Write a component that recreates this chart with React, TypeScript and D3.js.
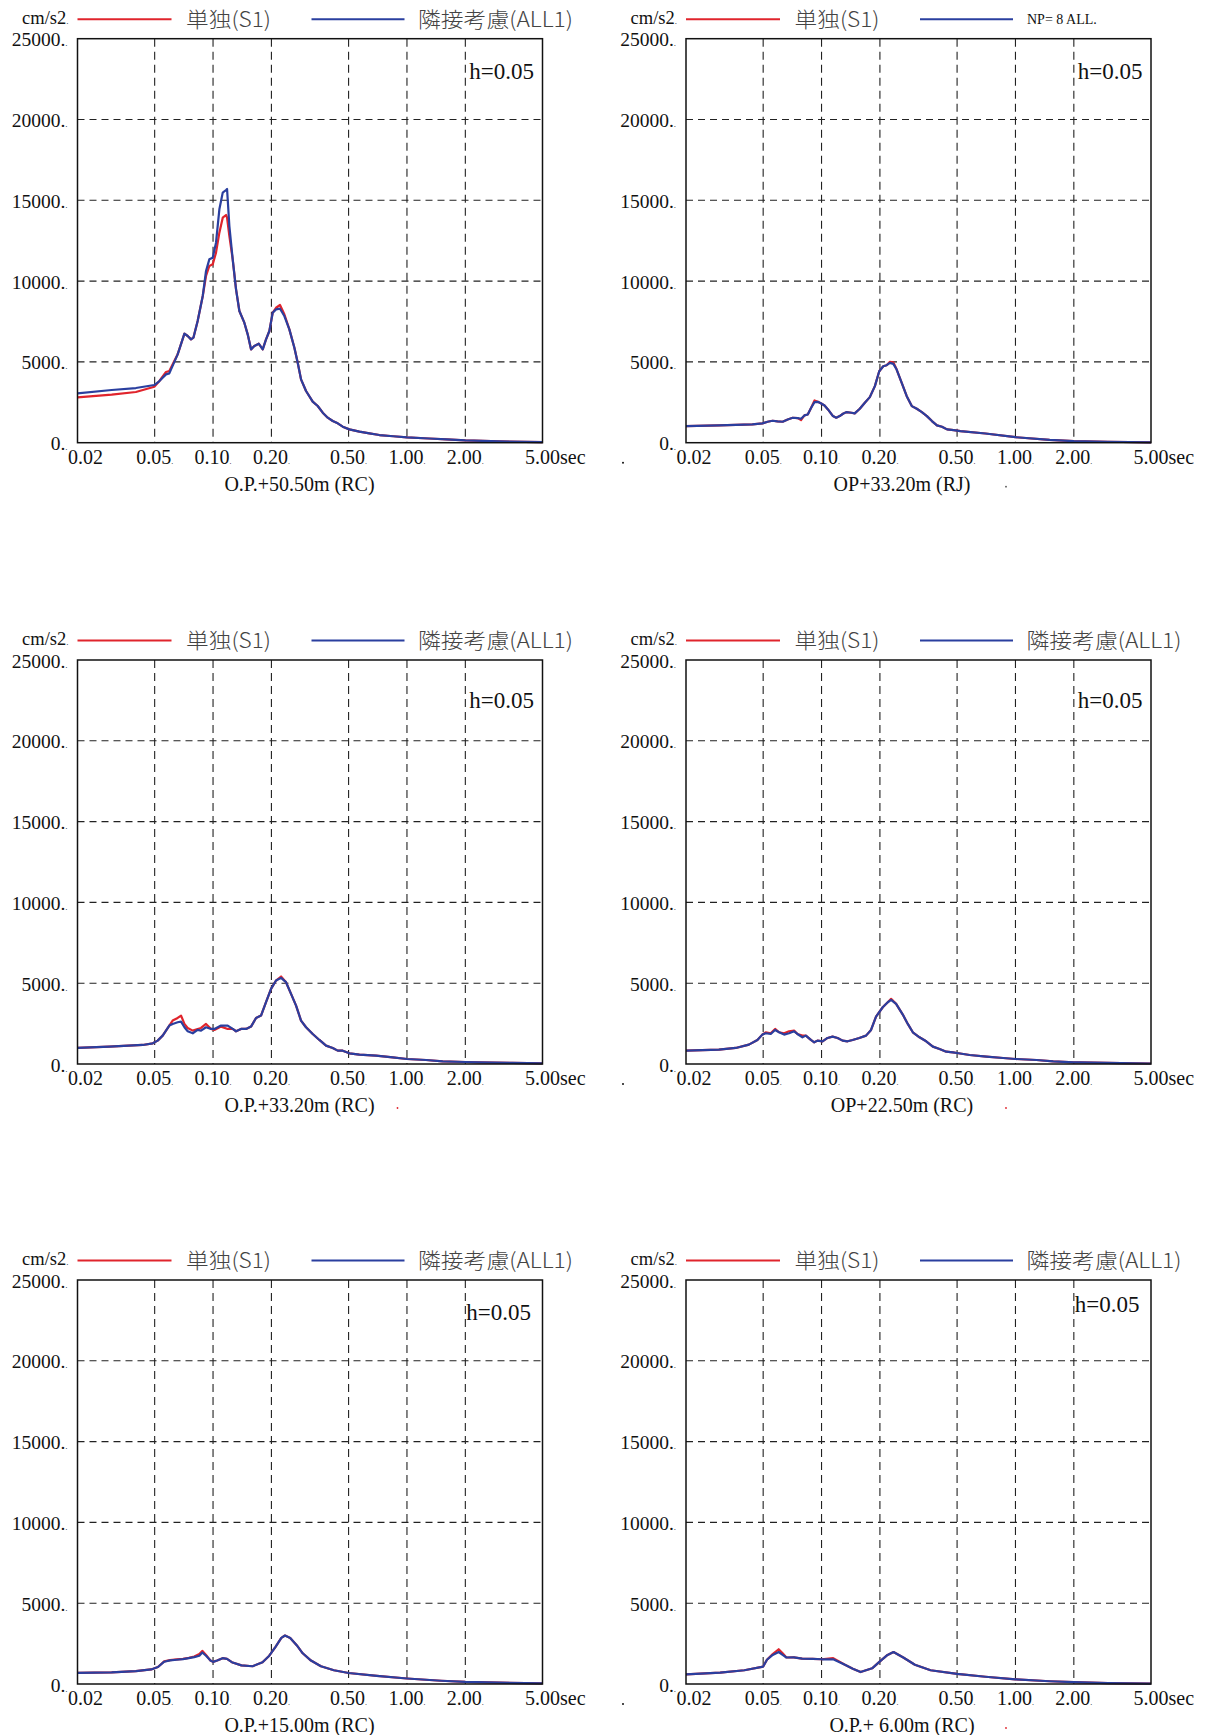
import React from "react";
import * as d3 from "d3";

// ---------- tick labels ----------
const X_TICKS = [0.02, 0.05, 0.1, 0.2, 0.5, 1, 2, 5];
const X_TICK_LABELS = ["0.02", "0.05", "0.10", "0.20", "0.50", "1.00", "2.00", "5.00"];
const X_GRID = [0.05, 0.1, 0.2, 0.5, 1, 2];
const Y_TICKS = [0, 5000, 10000, 15000, 20000, 25000];
const Y_GRID = [5000, 10000, 15000, 20000];

// ---------- panel 1 : O.P.+50.50m (RC) ----------
const P1_T = [0.02, 0.03, 0.04, 0.0498, 0.0529, 0.0572, 0.0595, 0.0657, 0.0712, 0.074, 0.077, 0.0792, 0.0833, 0.0885, 0.092, 0.0957, 0.0996, 0.1036, 0.1078, 0.1122, 0.1167, 0.1181, 0.1214, 0.1263, 0.1314, 0.1367, 0.145, 0.1509, 0.157, 0.1633, 0.172, 0.1804, 0.1876, 0.1952, 0.2031, 0.2113, 0.2215, 0.2332, 0.2475, 0.2627, 0.2733, 0.2843, 0.3017, 0.3266, 0.3466, 0.3678, 0.3903, 0.4142, 0.4395, 0.4664, 0.5047, 0.5685, 0.6403, 0.7208, 0.85, 1.0, 1.3, 1.6, 2.0, 3.0, 5.0];
const P1_S1 = [2806, 2970, 3136, 3466, 3817, 4374, 4435, 5467, 6746, 6602, 6395, 6498, 7530, 9077, 10315, 10934, 11037, 11759, 12997, 13925, 14090, 13925, 12791, 11347, 9490, 8149, 7427, 6705, 5776, 5983, 6127, 5776, 6395, 6911, 8046, 8350, 8520, 7950, 7014, 5880, 4951, 3920, 3198, 2537, 2269, 1857, 1547, 1341, 1197, 990, 825, 681, 578, 474, 400, 330, 260, 200, 140, 80, 30];
const P1_ALL1 = [3053, 3260, 3383, 3569, 3817, 4229, 4291, 5467, 6746, 6602, 6395, 6498, 7530, 9077, 10624, 11347, 11450, 12378, 14441, 15473, 15638, 15700, 13410, 11347, 9490, 8149, 7427, 6705, 5776, 5983, 6127, 5776, 6395, 6911, 8046, 8252, 8293, 7839, 7014, 5880, 4951, 3920, 3198, 2537, 2269, 1857, 1547, 1341, 1197, 990, 825, 681, 578, 474, 400, 330, 260, 200, 140, 80, 30];

// ---------- panel 2 : OP+33.20m (RJ) ----------
const P2_T = [0.02, 0.0296, 0.044, 0.0496, 0.0527, 0.0559, 0.0593, 0.063, 0.0669, 0.071, 0.0754, 0.0784, 0.0816, 0.0849, 0.0884, 0.092, 0.0957, 0.0996, 0.1036, 0.1079, 0.1145, 0.1191, 0.124, 0.129, 0.1342, 0.1425, 0.1483, 0.1575, 0.1672, 0.1774, 0.1884, 0.1984, 0.2081, 0.2166, 0.2254, 0.2345, 0.244, 0.2591, 0.275, 0.292, 0.31, 0.3291, 0.3494, 0.3709, 0.3937, 0.4179, 0.4437, 0.4804, 0.5203, 0.7, 1.0, 1.5, 2.0, 3.0, 5.0];
const P2_S1 = [1029, 1070, 1132, 1194, 1297, 1358, 1317, 1297, 1440, 1544, 1523, 1400, 1688, 1749, 2161, 2614, 2531, 2428, 2305, 2058, 1646, 1544, 1646, 1790, 1893, 1852, 1811, 2099, 2470, 2819, 3499, 4425, 4733, 4795, 5000, 4980, 4528, 3704, 2881, 2264, 2099, 1893, 1646, 1338, 1070, 988, 823, 782, 720, 570, 340, 170, 100, 60, 25];
const P2_ALL1 = [1029, 1070, 1132, 1194, 1297, 1358, 1317, 1297, 1440, 1544, 1523, 1482, 1688, 1749, 2161, 2511, 2531, 2428, 2305, 2058, 1646, 1544, 1646, 1790, 1893, 1852, 1811, 2099, 2470, 2819, 3499, 4425, 4733, 4795, 4939, 4877, 4528, 3704, 2881, 2264, 2099, 1893, 1646, 1338, 1070, 988, 823, 782, 720, 570, 340, 170, 100, 60, 25];

// ---------- panel 3 : O.P.+33.20m (RC) ----------
const P3_T = [0.02, 0.0292, 0.0434, 0.0489, 0.0518, 0.055, 0.0572, 0.0595, 0.0619, 0.0657, 0.0684, 0.0712, 0.074, 0.0786, 0.0833, 0.0867, 0.092, 0.0977, 0.1016, 0.11, 0.119, 0.1263, 0.1314, 0.1394, 0.148, 0.157, 0.1666, 0.1768, 0.1876, 0.1991, 0.2113, 0.2242, 0.2379, 0.2525, 0.268, 0.2843, 0.3017, 0.3266, 0.3535, 0.3826, 0.4142, 0.4395, 0.4664, 0.5047, 0.5685, 0.693, 0.8444, 1.0, 1.254, 1.529, 2.0, 2.364, 3.5, 5.0];
const P3_S1 = [992, 1074, 1178, 1281, 1446, 1756, 2066, 2376, 2686, 2851, 2996, 2479, 2231, 2066, 2169, 2231, 2479, 2169, 2107, 2314, 2169, 2169, 2025, 2169, 2169, 2314, 2851, 2996, 3822, 4649, 5165, 5413, 5062, 4339, 3616, 2686, 2273, 1859, 1488, 1136, 992, 826, 826, 661, 578, 516, 413, 310, 248, 165, 124, 103, 70, 40];
const P3_ALL1 = [992, 1074, 1178, 1281, 1446, 1756, 2066, 2376, 2479, 2583, 2624, 2273, 2025, 1901, 2107, 2066, 2273, 2169, 2169, 2376, 2376, 2169, 2025, 2169, 2169, 2314, 2851, 2996, 3822, 4649, 5165, 5330, 5062, 4339, 3616, 2686, 2273, 1859, 1488, 1136, 992, 826, 826, 661, 578, 516, 413, 310, 248, 165, 124, 103, 70, 40];

// ---------- panel 4 : OP+22.50m (RC) ----------
const P4_T = [0.02, 0.02956, 0.0361, 0.0422, 0.0467, 0.0495, 0.0515, 0.0547, 0.0576, 0.0604, 0.0641, 0.068, 0.0722, 0.0751, 0.0797, 0.083, 0.0881, 0.0917, 0.0953, 0.1012, 0.1074, 0.114, 0.121, 0.1284, 0.1363, 0.1446, 0.1566, 0.1696, 0.18, 0.191, 0.2068, 0.2195, 0.2284, 0.2424, 0.2624, 0.2785, 0.2956, 0.32, 0.3465, 0.3751, 0.4061, 0.4396, 0.4761, 0.4993, 0.5803, 0.7079, 0.8634, 1.0, 1.284, 1.566, 2.0, 2.151, 3.5, 5.0];
const P4_S1 = [826, 888, 992, 1198, 1488, 1818, 1963, 1901, 2169, 1963, 1901, 2025, 2066, 1859, 1756, 1756, 1488, 1343, 1446, 1405, 1612, 1694, 1612, 1446, 1405, 1488, 1612, 1756, 2107, 2934, 3512, 3822, 4029, 3719, 3058, 2479, 1963, 1653, 1405, 1074, 930, 764, 723, 682, 558, 455, 372, 310, 248, 165, 103, 103, 60, 30];
const P4_ALL1 = [826, 888, 992, 1198, 1488, 1818, 1901, 1859, 2107, 1963, 1818, 1901, 2025, 1859, 1653, 1756, 1488, 1343, 1446, 1405, 1612, 1694, 1612, 1446, 1405, 1488, 1612, 1756, 2107, 2934, 3512, 3822, 3967, 3719, 3058, 2479, 1963, 1653, 1405, 1074, 930, 764, 723, 682, 558, 455, 372, 310, 248, 165, 103, 103, 60, 30];

// ---------- panel 5 : O.P.+15.00m (RC) ----------
const P5_T = [0.02, 0.03, 0.04, 0.048, 0.052, 0.056, 0.06, 0.065, 0.07, 0.075, 0.08, 0.085, 0.088, 0.092, 0.097, 0.1, 0.105, 0.112, 0.118, 0.125, 0.14, 0.16, 0.18, 0.195, 0.21, 0.225, 0.235, 0.25, 0.27, 0.29, 0.32, 0.36, 0.42, 0.5, 0.7, 1.0, 1.5, 2.0, 3.0, 5.0];
const P5_S1 = [685, 720, 800, 900, 1050, 1400, 1480, 1520, 1560, 1620, 1700, 1850, 2050, 1800, 1450, 1370, 1450, 1600, 1550, 1350, 1150, 1100, 1350, 1750, 2300, 2850, 3000, 2850, 2400, 1900, 1450, 1100, 850, 680, 500, 340, 200, 130, 80, 40];
const P5_ALL1 = [685, 720, 800, 900, 1050, 1380, 1460, 1500, 1540, 1600, 1660, 1750, 1950, 1750, 1450, 1370, 1450, 1600, 1550, 1350, 1150, 1100, 1350, 1750, 2300, 2850, 3000, 2850, 2400, 1900, 1450, 1100, 850, 680, 500, 340, 200, 130, 80, 40];

// ---------- panel 6 : O.P.+ 6.00m (RC) ----------
const P6_T = [0.02, 0.03, 0.04, 0.05, 0.0523, 0.056, 0.0601, 0.063, 0.0659, 0.072, 0.0794, 0.09, 0.1, 0.1148, 0.132, 0.145, 0.159, 0.1824, 0.2, 0.219, 0.235, 0.264, 0.303, 0.365, 0.5, 0.7, 1.0, 1.5, 2.0, 3.0, 5.0];
const P6_S1 = [600, 700, 850, 1080, 1500, 1850, 2150, 1900, 1640, 1650, 1570, 1550, 1530, 1600, 1190, 950, 740, 970, 1400, 1800, 1980, 1640, 1190, 850, 630, 450, 290, 170, 110, 60, 20];
const P6_ALL1 = [600, 700, 850, 1080, 1500, 1800, 1980, 1800, 1640, 1650, 1570, 1550, 1530, 1530, 1190, 950, 740, 970, 1400, 1800, 1980, 1640, 1190, 850, 630, 450, 290, 170, 110, 60, 20];

const TITLES = ["O.P.+50.50m (RC)", "OP+33.20m (RJ)", "O.P.+33.20m (RC)", "OP+22.50m (RC)", "O.P.+15.00m (RC)", "O.P.+ 6.00m (RC)"];
const LEGEND_S1 = "単独(S1)";
const LEGEND_ALL1 = "隣接考慮(ALL1)";
const LEGEND_NP = "NP= 8 ALL.";

const SERIES = [
  { t: P1_T, s1: P1_S1, all1: P1_ALL1 },
  { t: P2_T, s1: P2_S1, all1: P2_ALL1 },
  { t: P3_T, s1: P3_S1, all1: P3_ALL1 },
  { t: P4_T, s1: P4_S1, all1: P4_ALL1 },
  { t: P5_T, s1: P5_S1, all1: P5_ALL1 },
  { t: P6_T, s1: P6_S1, all1: P6_ALL1 },
];

// ---------- layout ----------
const COL_X = [77.5, 686];
const ROW_TOP = [38.7, 660, 1280];
const PW = 465;
const PH = 404;
const H_LABEL_DY = [[40, 40], [48, 48], [40, 32]];
const H_LABEL_DX = [4, 4, 1];
const TITLE_DX = [222, 216];

const RED = "#e0242c";
const BLUE = "#2a3f9f";
const SERIF = "'Liberation Serif', 'Times New Roman', serif";
const CJK = "'Noto Sans CJK JP', sans-serif";

function Panel({ idx }: { idx: number }) {
  const col = idx % 2;
  const row = Math.floor(idx / 2);
  const x0 = COL_X[col];
  const top = ROW_TOP[row];
  const bottom = top + PH;
  const x = d3.scaleLog().domain([0.02, 5]).range([x0, x0 + PW]);
  const y = d3.scaleLinear().domain([0, 25000]).range([bottom, top]);
  const s = SERIES[idx];
  const line = d3
    .line<number>()
    .x((_, i) => x(s.t[i]))
    .y((d) => y(d));
  const legY = top - 19.5;
  const isNP = idx === 1;
  return (
    <g>
      {/* legend */}
      <text x={x0 - 9} y={legY + 4.5} textAnchor="end" fontFamily={SERIF} fontSize={18.5} fill="#111">
        cm/s2<tspan fontSize={9}>.</tspan>
      </text>
      <line x1={x0} x2={x0 + 94} y1={legY} y2={legY} stroke={RED} strokeWidth={2} />
      <text x={x0 + 108.5} y={legY + 7.5} fontFamily={CJK} fontWeight={300} fontSize={21} fill="#444" textLength={85} lengthAdjust="spacingAndGlyphs">
        {LEGEND_S1}
      </text>
      <line x1={x0 + 234} x2={x0 + 327} y1={legY} y2={legY} stroke={BLUE} strokeWidth={2} />
      {isNP ? (
        <text x={x0 + 341} y={legY + 5} fontFamily={SERIF} fontSize={14} fill="#111">
          {LEGEND_NP}
        </text>
      ) : (
        <text x={x0 + 340.5} y={legY + 7.5} fontFamily={CJK} fontWeight={300} fontSize={21} fill="#444" textLength={155} lengthAdjust="spacingAndGlyphs">
          {LEGEND_ALL1}
        </text>
      )}

      {/* grid */}
      {X_GRID.map((g) => (
        <line key={"vx" + g} x1={x(g)} x2={x(g)} y1={top} y2={bottom} stroke="#222" strokeWidth={1.1} strokeDasharray="8,5" />
      ))}
      {Y_GRID.map((g) => (
        <line key={"hy" + g} x1={x0} x2={x0 + PW} y1={y(g)} y2={y(g)} stroke="#222" strokeWidth={1.1} strokeDasharray="7,5" />
      ))}

      {/* curves */}
      <path d={line(s.s1) || ""} fill="none" stroke={RED} strokeWidth={2.2} strokeLinejoin="round" />
      <path d={line(s.all1) || ""} fill="none" stroke={BLUE} strokeWidth={2.2} strokeLinejoin="round" />

      {/* frame */}
      <rect x={x0} y={top} width={PW} height={PH} fill="none" stroke="#111" strokeWidth={1.5} />

      {/* y ticks */}
      {Y_TICKS.map((v) => (
        <text key={"yt" + v} x={x0 - 10} y={y(v) + 7.5} textAnchor="end" fontFamily={SERIF} fontSize={19.5} fill="#111">
          {v}.<tspan fontSize={9}>.</tspan>
        </text>
      ))}

      {/* x ticks */}
      {X_TICKS.map((v, i) => {
        const lbl = X_TICK_LABELS[i];
        if (i === 0) {
          return (
            <text key={"xt" + v} x={x(v) + 8} y={bottom + 21} textAnchor="middle" fontFamily={SERIF} fontSize={20} fill="#111">
              {lbl}
            </text>
          );
        }
        if (i === X_TICKS.length - 1) {
          return (
            <text key={"xt" + v} x={x(v) - 17.5} y={bottom + 21} fontFamily={SERIF} fontSize={20} fill="#111">
              {lbl}sec
            </text>
          );
        }
        return (
          <text key={"xt" + v} x={x(v)} y={bottom + 21} textAnchor="middle" fontFamily={SERIF} fontSize={20} fill="#111">
            {lbl}
            <tspan fontSize={8}>.</tspan>
          </text>
        );
      })}

      {/* h label */}
      <text x={x(2) + H_LABEL_DX[row]} y={top + H_LABEL_DY[row][col]} fontFamily={SERIF} fontSize={23} fill="#111">
        h=0.05
      </text>

      {/* title */}
      <text x={x0 + TITLE_DX[col]} y={bottom + 48} textAnchor="middle" fontFamily={SERIF} fontSize={20} fill="#111">
        {TITLES[idx]}
      </text>

      {/* small marks */}
      {(idx === 2 || col === 1) && idx !== 1 ? (
        <circle cx={x0 + 320} cy={bottom + 44} r={0.9} fill={RED} />
      ) : null}
      {idx === 1 ? <circle cx={x0 + 320} cy={bottom + 44} r={0.9} fill="#555" /> : null}
      {col === 1 ? <circle cx={x0 - 63} cy={bottom + 20} r={1} fill="#111" /> : null}
    </g>
  );
}

export default function App() {
  return (
    <svg
      width={1211}
      height={1735}
      viewBox="0 0 1211 1735"
      style={{ position: "absolute", left: 0, top: 0, background: "#fff" }}
    >
      <rect x={0} y={0} width={1211} height={1735} fill="#fff" />
      {[0, 1, 2, 3, 4, 5].map((i) => (
        <Panel key={i} idx={i} />
      ))}
    </svg>
  );
}
